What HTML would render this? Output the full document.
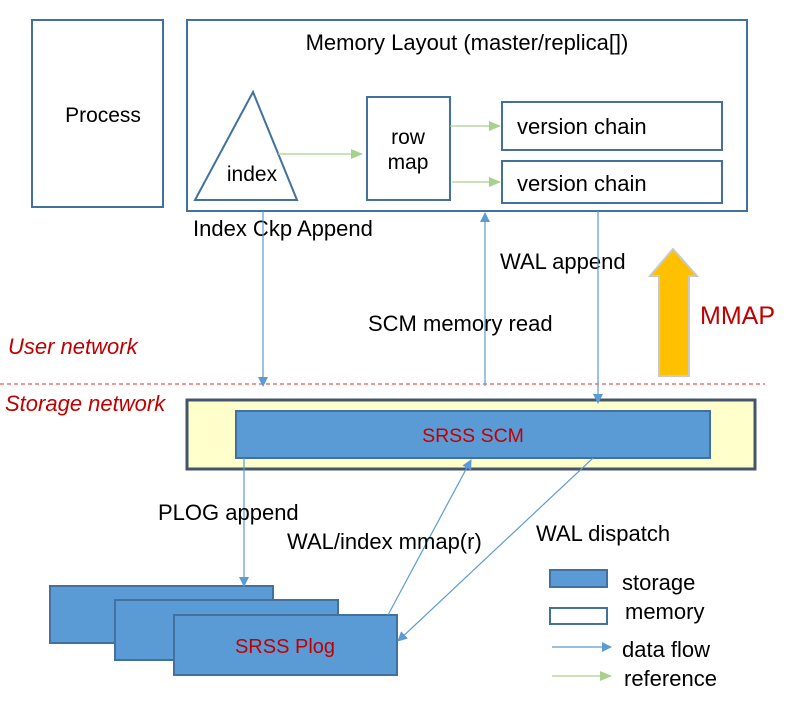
<!DOCTYPE html>
<html><head><meta charset="utf-8"><style>body{margin:0;background:#fff}svg{display:block}text{font-family:"Liberation Sans",sans-serif;font-size:22px;fill:#000}</style></head><body>
<svg width="788" height="704" viewBox="0 0 788 704" xmlns="http://www.w3.org/2000/svg">
<defs>
<marker id="b" markerWidth="10" markerHeight="10" refX="9" refY="5" orient="auto" markerUnits="userSpaceOnUse"><path d="M0,0 L10,5 L0,10z" fill="#5b9bd5"/></marker>
<marker id="g" markerWidth="12" markerHeight="10" refX="11" refY="5" orient="auto" markerUnits="userSpaceOnUse"><path d="M0,0 L12,5 L0,10z" fill="#a9d18e"/></marker>
</defs>
<g fill="none" stroke="#41719c" stroke-width="2">
<rect x="32" y="20" width="131" height="187" fill="#fff"/>
<rect x="187" y="20" width="560" height="191" fill="#fff"/>
<path d="M253,92 L195,200 L297,200 Z"/>
<rect x="367" y="97" width="83" height="103"/>
<rect x="502" y="102" width="220" height="48"/>
<rect x="502" y="161" width="220" height="42"/>
</g>
<text x="103" y="122" text-anchor="middle" style="font-size:21px">Process</text>
<text x="467" y="50" text-anchor="middle">Memory Layout (master/replica[])</text>
<text x="252" y="181" text-anchor="middle" style="font-size:21px">index</text>
<text x="408" y="144" text-anchor="middle" style="font-size:21px">row</text>
<text x="408" y="169" text-anchor="middle" style="font-size:21px">map</text>
<text x="517" y="134">version chain</text>
<text x="517" y="191">version chain</text>
<g stroke="#a9d18e" stroke-width="1.2">
<line x1="278" y1="154" x2="362" y2="154" marker-end="url(#g)"/>
<line x1="450" y1="126" x2="500" y2="126" marker-end="url(#g)"/>
<line x1="452" y1="182" x2="500" y2="182" marker-end="url(#g)"/>
</g>
<text x="193" y="236">Index Ckp Append</text>
<text x="500" y="269">WAL append</text>
<text x="368" y="331">SCM memory read</text>
<text x="700" y="324" style="font-size:25px;fill:#c00000">MMAP</text>
<path d="M659,376 L659,276 L650,276 L673,249 L697,276 L689,276 L689,376 Z" fill="#ffc000" stroke="#c9c9c9" stroke-width="2"/>
<line x1="0" y1="384" x2="765" y2="384" stroke="#e03030" stroke-dasharray="4,3" stroke-width="1"/>
<text x="8" y="354" style="font-style:italic;fill:#c00000">User network</text>
<text x="5" y="411" style="font-style:italic;fill:#c00000">Storage network</text>
<rect x="187" y="400" width="568" height="69" fill="#ffffcc" stroke="#44546a" stroke-width="3"/>
<rect x="236" y="411" width="474" height="47" fill="#5b9bd5" stroke="#41719c" stroke-width="2"/>
<text x="473" y="442" text-anchor="middle" style="font-size:19.5px;fill:#c00000">SRSS SCM</text>
<g stroke="#5b9bd5" stroke-width="1.2" fill="none">
<line x1="263" y1="211" x2="263" y2="386" marker-end="url(#b)"/>
<line x1="485" y1="386" x2="485" y2="213" marker-end="url(#b)"/>
<line x1="598" y1="211" x2="598" y2="403" marker-end="url(#b)"/>
</g>
<rect x="50" y="586" width="223" height="57" fill="#5b9bd5" stroke="#41719c" stroke-width="2"/>
<rect x="115" y="600" width="223" height="60" fill="#5b9bd5" stroke="#41719c" stroke-width="2"/>
<rect x="174" y="615" width="223" height="60" fill="#5b9bd5" stroke="#41719c" stroke-width="2"/>
<text x="285" y="653" text-anchor="middle" style="font-size:20px;fill:#c00000">SRSS Plog</text>
<g stroke="#5b9bd5" stroke-width="1.2" fill="none">
<line x1="244" y1="458" x2="244" y2="586" marker-end="url(#b)"/>
<line x1="388" y1="615" x2="471" y2="460" marker-end="url(#b)"/>
<line x1="593" y1="458" x2="398" y2="641" marker-end="url(#b)"/>
</g>
<text x="158" y="520">PLOG append</text>
<text x="287" y="549">WAL/index mmap(r)</text>
<text x="536" y="541">WAL dispatch</text>
<rect x="550" y="570" width="57" height="17" fill="#5b9bd5" stroke="#41719c" stroke-width="2"/>
<rect x="550" y="608" width="57" height="16" fill="#fff" stroke="#41719c" stroke-width="2"/>
<line x1="552" y1="647" x2="611" y2="647" stroke="#5b9bd5" stroke-width="1.2" marker-end="url(#b)"/>
<line x1="552" y1="676" x2="611" y2="676" stroke="#a9d18e" stroke-width="1.2" marker-end="url(#g)"/>
<text x="622" y="590">storage</text>
<text x="625" y="619">memory</text>
<text x="622" y="657">data flow</text>
<text x="624" y="686">reference</text>
</svg>
</body></html>
